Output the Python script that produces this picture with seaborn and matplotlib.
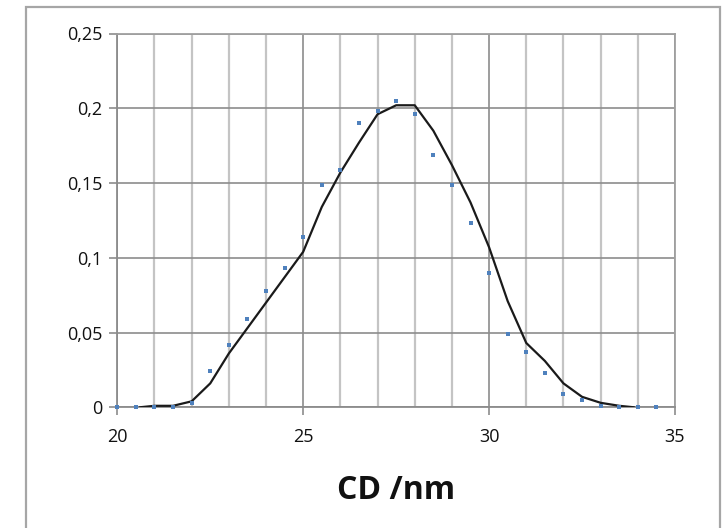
import matplotlib
matplotlib.use("Agg")
import matplotlib.pyplot as plt
import seaborn as sns
import pandas as pd
from matplotlib.patches import Rectangle
from matplotlib.ticker import MultipleLocator

# measured points (blue)
cd_points = [20, 20.5, 21, 21.5, 22, 22.5, 23, 23.5, 24, 24.5, 25, 25.5, 26, 26.5,
             27, 27.5, 28, 28.5, 29, 29.5, 30, 30.5, 31, 31.5, 32, 32.5, 33, 33.5, 34, 34.5]
freq_points = [0, 0, 0, 0, 0.003, 0.024, 0.042, 0.059, 0.078, 0.093, 0.114, 0.149, 0.159, 0.190,
               0.198, 0.205, 0.196, 0.169, 0.149, 0.123, 0.090, 0.049, 0.037, 0.023, 0.009, 0.005,
               0.001, 0, 0, 0]

# fitted curve (black)
cd_fit = [20.6, 21, 21.5, 22, 22.5, 23, 23.5, 24, 24.5, 25, 25.5, 26, 26.5, 27, 27.5, 28,
          28.5, 29, 29.5, 30, 30.5, 31, 31.5, 32, 32.5, 33, 33.5, 33.9]
freq_fit = [0, 0.001, 0.001, 0.004, 0.016, 0.036, 0.053, 0.070, 0.087, 0.104, 0.134, 0.157,
            0.177, 0.196, 0.202, 0.202, 0.185, 0.162, 0.137, 0.107, 0.071, 0.043, 0.031, 0.016,
            0.007, 0.003, 0.001, 0]

x_ticks = [20, 25, 30, 35]
x_tick_labels = ["20", "25", "30", "35"]
y_ticks = [0, 0.05, 0.1, 0.15, 0.2, 0.25]
y_tick_labels = ["0", "0,05", "0,1", "0,15", "0,2", "0,25"]
x_label = "CD /nm"

sns.set_theme(style="white")
plt.rcParams["font.family"] = ["Open Sans", "DejaVu Sans"]

fig = plt.figure(figsize=(7.28, 5.28), dpi=100)
ax = fig.add_axes([117.3 / 728, 1 - 407.3 / 528, (675 - 117.3) / 728, (407.3 - 33.5) / 528])

# outer chart border
fig.patches.append(Rectangle((26 / 728, -0.05), (720 - 26) / 728, 1.05 - 7 / 528,
                             transform=fig.transFigure, fill=False,
                             edgecolor="#a6a6a6", linewidth=1.6, zorder=0))

pts = pd.DataFrame({"cd": cd_points, "freq": freq_points})
fit = pd.DataFrame({"cd": cd_fit, "freq": freq_fit})

sns.lineplot(data=fit, x="cd", y="freq", ax=ax, color="#1a1a1a", linewidth=1.6, zorder=3)
sns.scatterplot(data=pts, x="cd", y="freq", ax=ax, color="#4f81bd", marker="s", s=8,
                linewidth=0, zorder=4, clip_on=False)

ax.set_xlim(20, 35)
ax.set_ylim(0, 0.25)
ax.set_xticks(x_ticks)
ax.set_xticklabels(x_tick_labels)
ax.set_yticks(y_ticks)
ax.set_yticklabels(y_tick_labels)
ax.xaxis.set_minor_locator(MultipleLocator(1))

ax.grid(True, which="major", axis="both", color="#8c8c8c", linewidth=1.2, zorder=0)
ax.grid(True, which="minor", axis="x", color="#c4c4c4", linewidth=1.6, zorder=0)
ax.set_axisbelow(True)

for side in ["left", "right", "top", "bottom"]:
    ax.spines[side].set_visible(True)
    ax.spines[side].set_color("#8c8c8c")
    ax.spines[side].set_linewidth(1.3)
ax.spines["right"].set_color("#a0a0a0")
ax.spines["top"].set_color("#a0a0a0")

ax.tick_params(axis="both", which="major", direction="out", length=6, width=1.2,
               color="#8c8c8c", labelsize=13, labelcolor="#111111", pad=5,
               bottom=True, left=True)
ax.tick_params(axis="x", which="minor", length=0)
ax.tick_params(axis="x", which="major", pad=9)

ax.set_xlabel(x_label, fontsize=23, fontweight="bold", color="#111111", labelpad=20)
ax.set_ylabel("")

fig.savefig("out.png", dpi=100)
